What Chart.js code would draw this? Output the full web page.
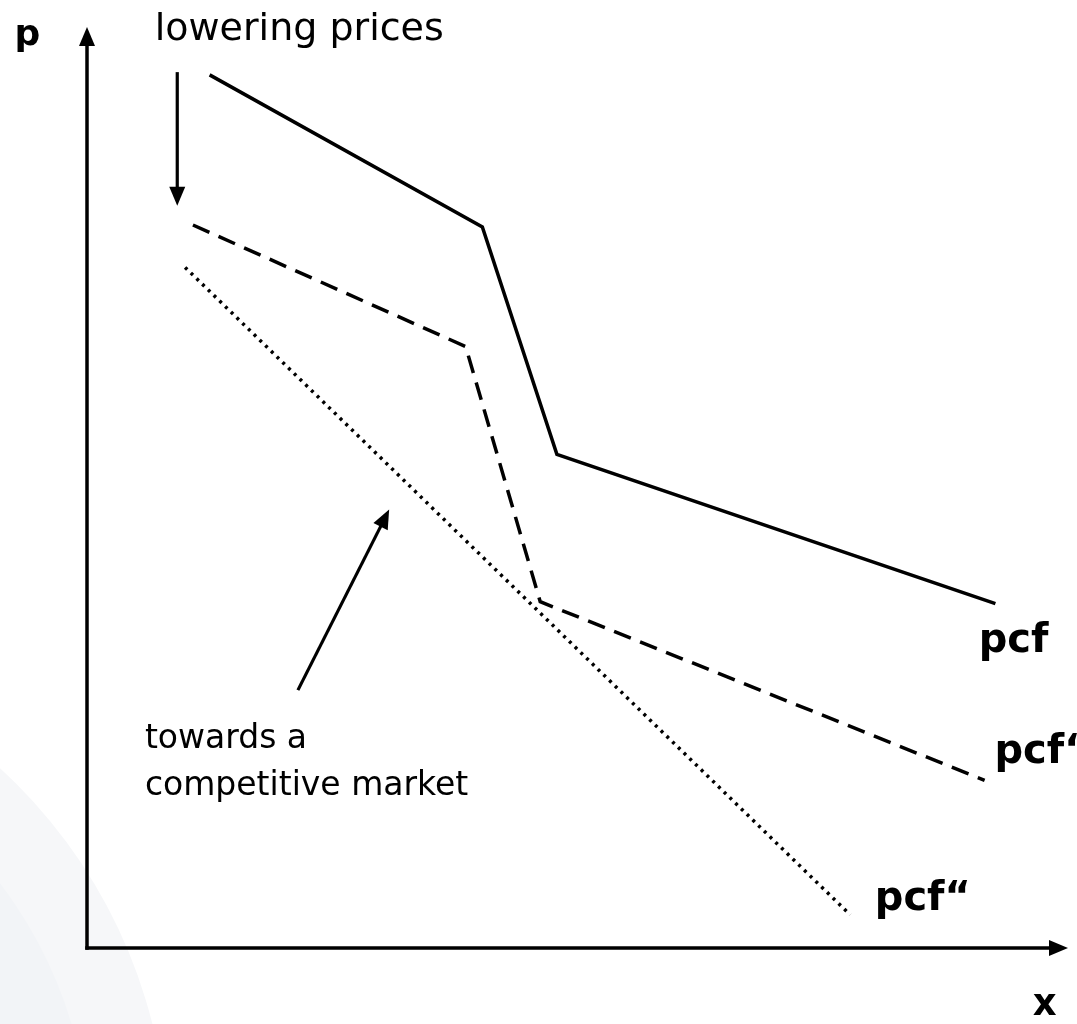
<!DOCTYPE html>
<html>
<head>
<meta charset="utf-8">
<script src="https://cdn.jsdelivr.net/npm/chart.js@4.4.1/dist/chart.umd.min.js"></script>
<style>
  html, body { margin: 0; padding: 0; background: #ffffff; }
  #wrap { width: 1077px; height: 1024px; position: relative; }
</style>
</head>
<body>
<div id="wrap"><canvas id="pcfChart"></canvas></div>
<script>
// Curves (x = quantity, p = price), in axis units 0..100
const pcfX = [12.5, 40.3, 47.9, 92.6];
const pcfP = [94.8, 78.3, 53.6, 37.4];

const pcf1X = [10.8, 38.6, 46.2, 91.5];
const pcf1P = [78.5, 65.3, 37.6, 18.2];

const pcf2X = [10.0, 77.8];
const pcf2P = [73.9, 3.6];

// Annotation arrows [x0, p0, x1, p1] (tail -> tip)
const lowerArrow = [9.2, 95.1, 9.2, 80.6];
const marketArrow = [21.5, 28.0, 30.8, 47.6];

// Text labels
const labelTexts = ['p', 'x', 'lowering prices', 'towards a', 'competitive market', 'pcf', 'pcf\u2018', 'pcf\u201C'];
const labelX = [-7.4, 96.4, 6.9, 5.9, 5.9, 90.9, 92.5, 80.3];
const labelP = [98.0, -7.3, 98.6, 21.7, 16.6, 32.1, 20.1, 4.1];

const FONT = '"DejaVu Sans", Verdana, sans-serif';
const labelFonts = [
    'bold 36px ' + FONT,
    'bold 37px ' + FONT,
    '38px ' + FONT,
    '33px ' + FONT,
    '33px ' + FONT,
    'bold 40px ' + FONT,
    'bold 40px ' + FONT,
    'bold 40px ' + FONT
];

function toPoints(xs, ps) {
    return xs.map((x, i) => ({ x: x, y: ps[i] }));
}

function arrowHead(ctx, x0, y0, x1, y1, len, half) {
    const a = Math.atan2(y1 - y0, x1 - x0);
    ctx.beginPath();
    ctx.moveTo(x1, y1);
    ctx.lineTo(x1 - len * Math.cos(a) + half * Math.sin(a), y1 - len * Math.sin(a) - half * Math.cos(a));
    ctx.lineTo(x1 - len * Math.cos(a) - half * Math.sin(a), y1 - len * Math.sin(a) + half * Math.cos(a));
    ctx.closePath();
    ctx.fill();
}

function drawArrow(ctx, x0, y0, x1, y1) {
    const a = Math.atan2(y1 - y0, x1 - x0);
    ctx.beginPath();
    ctx.moveTo(x0, y0);
    ctx.lineTo(x1 - 14 * Math.cos(a), y1 - 14 * Math.sin(a));
    ctx.stroke();
    arrowHead(ctx, x0, y0, x1, y1, 19, 8);
}

// faint decorative arcs in the lower left corner
const backdrop = {
    id: 'backdrop',
    beforeDraw(chart) {
        const ctx = chart.ctx;
        ctx.save();
        ctx.fillStyle = '#ffffff';
        ctx.fillRect(0, 0, chart.width, chart.height);
        ctx.fillStyle = '#f6f7f9';
        ctx.beginPath();
        ctx.arc(-350, 1150, 518, 0, Math.PI * 2);
        ctx.fill();
        ctx.fillStyle = '#f2f4f7';
        ctx.beginPath();
        ctx.arc(-350, 1150, 440, 0, Math.PI * 2);
        ctx.fill();
        ctx.restore();
    }
};

// axes with arrow heads, annotation arrows, text labels
const decorations = {
    id: 'decorations',
    afterDatasetsDraw(chart) {
        const ctx = chart.ctx;
        const xs = chart.scales.x, ys = chart.scales.y;
        const area = chart.chartArea;
        ctx.save();
        ctx.strokeStyle = '#000';
        ctx.fillStyle = '#000';
        ctx.lineWidth = 3.5;
        ctx.lineCap = 'butt';

        // y axis
        drawArrow(ctx, area.left, area.bottom + 1.75, area.left, area.top);
        // x axis
        drawArrow(ctx, area.left - 1.75, area.bottom, area.right, area.bottom);

        ctx.lineWidth = 3.2;
        [lowerArrow, marketArrow].forEach(a => {
            drawArrow(ctx, xs.getPixelForValue(a[0]), ys.getPixelForValue(a[1]),
                xs.getPixelForValue(a[2]), ys.getPixelForValue(a[3]));
        });

        ctx.textBaseline = 'alphabetic';
        ctx.textAlign = 'left';
        labelTexts.forEach((t, i) => {
            ctx.font = labelFonts[i];
            ctx.fillText(t, xs.getPixelForValue(labelX[i]), ys.getPixelForValue(labelP[i]));
        });
        ctx.restore();
    }
};

new Chart(document.getElementById('pcfChart'), {
    type: 'scatter',
    data: {
        datasets: [
            {
                label: 'pcf',
                data: toPoints(pcfX, pcfP),
                showLine: true,
                borderColor: '#000',
                borderWidth: 3.5,
                pointRadius: 0
            },
            {
                label: 'pcf\u2018',
                data: toPoints(pcf1X, pcf1P),
                showLine: true,
                borderColor: '#000',
                borderWidth: 3.5,
                borderDash: [18, 10],
                pointRadius: 0
            },
            {
                label: 'pcf\u201C',
                data: toPoints(pcf2X, pcf2P),
                showLine: true,
                borderColor: '#000',
                borderWidth: 3.5,
                borderDash: [3, 5],
                pointRadius: 0
            }
        ]
    },
    options: {
        responsive: true,
        maintainAspectRatio: false,
        animation: false,
        layout: { padding: { left: 87, top: 27, right: 9, bottom: 76 } },
        scales: {
            x: { type: 'linear', min: 0, max: 100, display: false },
            y: { type: 'linear', min: 0, max: 100, display: false }
        },
        plugins: {
            legend: { display: false },
            tooltip: { enabled: false }
        }
    },
    plugins: [backdrop, decorations]
});
</script>
</body>
</html>
